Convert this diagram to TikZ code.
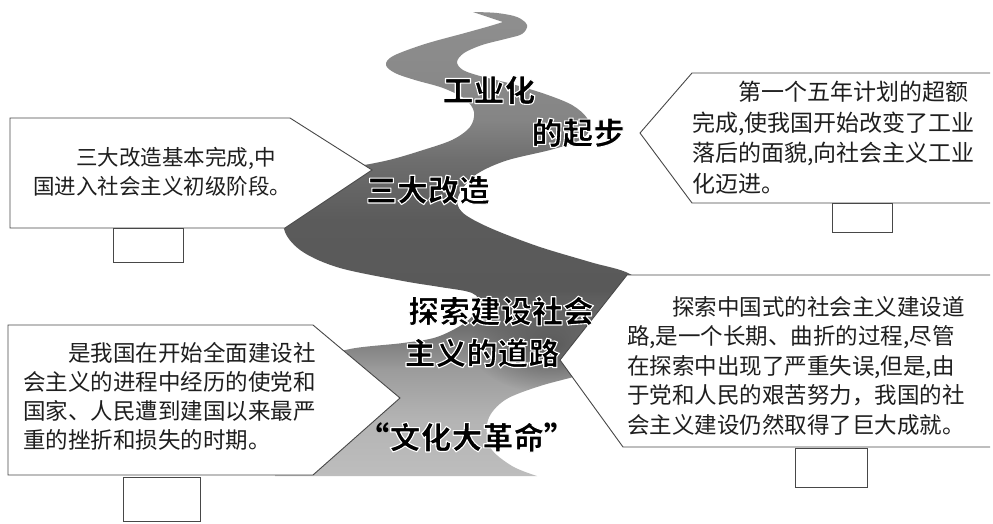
\documentclass[tikz,border=0pt]{standalone}
\usepackage{fontspec}
\setmainfont{Noto Sans CJK SC}
\newfontfamily\lblfont{Noto Sans CJK SC}
\usetikzlibrary{fadings}
\tikzfading[name=softblob, inner color=transparent!0, outer color=transparent!100]
\definecolor{boxline}{HTML}{474747}
\definecolor{txt}{HTML}{1E1E1E}
\definecolor{c1}{HTML}{BDBDBD}
\definecolor{c2}{HTML}{B4B4B4}
\definecolor{c3}{HTML}{9C9C9C}
\definecolor{c4}{HTML}{727272}
\definecolor{c5}{HTML}{595959}
\definecolor{c6}{HTML}{5B5B5B}
\definecolor{c7}{HTML}{6E6E6E}
\definecolor{c8}{HTML}{858585}
\definecolor{c9}{HTML}{8F8F8F}
\pgfdeclareverticalshading{roadshade}{100bp}{color(0bp)=(c1); color(25bp)=(c1); color(31bp)=(c2); color(36.4bp)=(c3); color(40.7bp)=(c4); color(45bp)=(c5); color(52.6bp)=(c6); color(59.1bp)=(c7); color(63.4bp)=(c8); color(75bp)=(c9); color(100bp)=(c9)}
\newcommand\halo[1]{\special{pdf:literal direct 2 Tr 1.1 w 1 G 1 j}#1\special{pdf:literal direct 0 Tr}}
\tikzset{
  boxedge/.style={draw=boxline, line width=0.9pt, line join=miter},
  tag/.style={draw=boxline, line width=0.9pt, fill=white, inner sep=0pt, anchor=north west},
  boxtext/.style={text=txt, align=left, inner sep=0pt, anchor=north west},
  roadlabel/.style={font=\lblfont\bfseries\fontsize{31}{36}\selectfont, text=black, inner sep=0pt}
}
\def\roadpath{plot[smooth, tension=0.55] coordinates {(473,12) (497,13) (517,17) (527,25) (522,34) (505,39) (482,45) (464,53) (457,62) (463,70) (480,76) (512,84) (545,94) (572,105) (587,118) (589,131) (578,141) (550,150) (505,161) (474,176) (458,197) (462,212) (488,227) (537,246) (590,262) (630,274) (655,298) (648,332) (615,360) (587,373) (540,386) (505,400) (488,420) (490,447) (512,466) (537,476)} -- plot[smooth, tension=0.55] coordinates {(275,476) (278,430) (290,392) (313,362) (350,349) (403,343) (437,337) (466,322) (480,305) (472,293) (440,287) (403,281) (340,268) (303,252) (285,232) (284,205) (300,185) (335,170) (370,164) (393,159) (420,151) (452,140) (470,127) (474,112) (465,99) (443,88) (415,80) (395,73) (386,65) (393,56) (425,44) (465,33) (490,26) (503,22)} -- (482,15) -- cycle}
\begin{document}
\begin{tikzpicture}[x=1pt, y=-1pt]
\useasboundingbox (0,0) rectangle (993,523);
\fill[white] (0,0) rectangle (993,523);
% road
\path[shading=roadshade] \roadpath;
\begin{scope}
  \clip \roadpath;
  \fill[c5, path fading=softblob] (550,345) ellipse [x radius=80pt, y radius=48pt];
\end{scope}
% top-left box
\draw[boxedge, fill=white] (10,118) -- (290,118) -- (372,170) -- (285,228) -- (10,228) -- cycle;
\node[tag, minimum width=70pt, minimum height=34pt] (tagTL) at (113,228) {};
\node[boxtext, font=\fontsize{21.5}{29}\selectfont] (txtTL) at (33,147)
  {\hspace*{2em}三大改造基本完成,中\\国进入社会主义初级阶段。};
% top-right box
\fill[white] (993,73) -- (692,73) -- (640,133) -- (692,203) -- (993,203) -- cycle;
\draw[boxedge] (990,73) -- (692,73) -- (640,133) -- (692,203) -- (990,203);
\node[tag, minimum width=60pt, minimum height=29pt] (tagTR) at (832,203) {};
\node[boxtext, font=\fontsize{23}{30.5}\selectfont] (txtTR) at (692,81)
  {\hspace*{2em}第一个五年计划的超额\\完成,使我国开始改变了工业\\落后的面貌,向社会主义工业\\化迈进。};
% bottom-left box
\draw[boxedge, fill=white] (8,325) -- (313,325) -- (400,398) -- (313,475) -- (8,475) -- cycle;
\node[tag, minimum width=77pt, minimum height=44pt] (tagBL) at (123,477) {};
\node[boxtext, font=\fontsize{22.5}{29}\selectfont] (txtBL) at (23,342)
  {\hspace*{2em}是我国在开始全面建设社\\会主义的进程中经历的使党和\\国家、人民遭到建国以来最严\\重的挫折和损失的时期。};
% bottom-right box
\fill[white] (993,275) -- (627,275) -- (560,360) -- (623,447) -- (993,447) -- cycle;
\draw[boxedge] (990,275) -- (627,275) -- (560,360) -- (623,447) -- (990,447);
\node[tag, minimum width=72pt, minimum height=39pt] (tagBR) at (795,448) {};
\node[boxtext, font=\fontsize{22.5}{29.5}\selectfont] (txtBR) at (627,296)
  {\hspace*{2em}探索中国式的社会主义建设道\\路,是一个长期、曲折的过程,尽管\\在探索中出现了严重失误,但是,由\\于党和人民的艰苦努力，我国的社\\会主义建设仍然取得了巨大成就。};
% road labels
\node[roadlabel] (lblA) at (489,90) {\halo{工业化}};
\node[roadlabel] (lblB) at (578,133) {\halo{的起步}};
\node[roadlabel] (lblC) at (428,190) {\halo{三大改造}};
\node[roadlabel] (lblD) at (501,311) {\halo{探索建设社会}};
\node[roadlabel] (lblE) at (482,353) {\halo{主义的道路}};
\node[roadlabel] (lblF) at (467,437) {“\halo{文化大革命}”};
\end{tikzpicture}
\end{document}
